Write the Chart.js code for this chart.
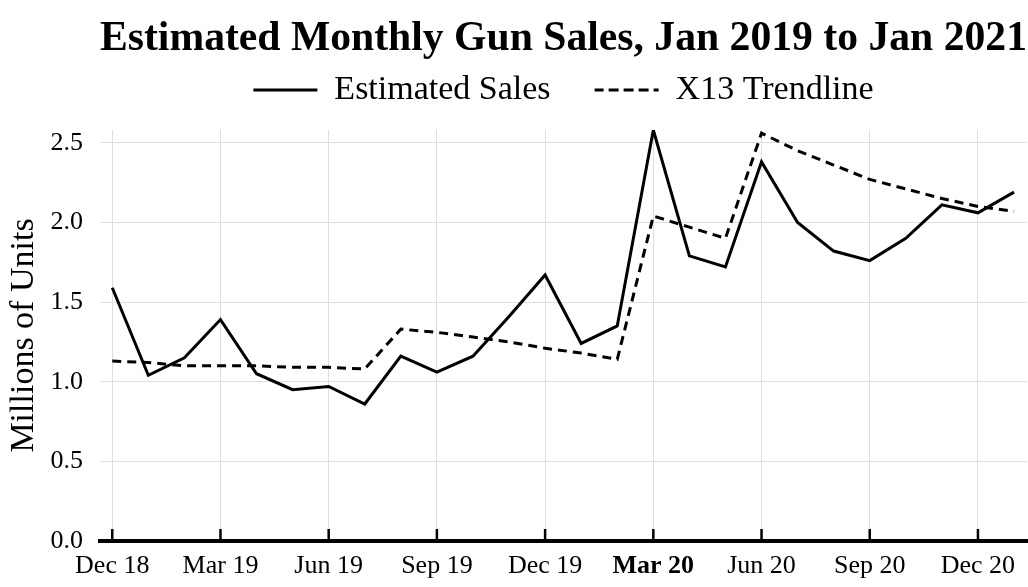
<!DOCTYPE html>
<html>
<head>
<meta charset="utf-8">
<script src="https://cdn.jsdelivr.net/npm/chart.js@4"></script>
<style>
  html, body { margin: 0; padding: 0; background: #fff; }
  #wrap { width: 1028px; height: 587px; }
</style>
</head>
<body>
<div id="wrap"><canvas id="salesChart"></canvas></div>
<script>
// month labels, Dec 2018 .. Jan 2021
const months = ['Dec 18', 'Jan 19', 'Feb 19', 'Mar 19', 'Apr 19', 'May 19', 'Jun 19', 'Jul 19',
  'Aug 19', 'Sep 19', 'Oct 19', 'Nov 19', 'Dec 19', 'Jan 20', 'Feb 20', 'Mar 20', 'Apr 20',
  'May 20', 'Jun 20', 'Jul 20', 'Aug 20', 'Sep 20', 'Oct 20', 'Nov 20', 'Dec 20', 'Jan 21'];

// estimated sales, millions of units
const estimatedSales = [1.59, 1.04, 1.15, 1.39, 1.05, 0.95, 0.97, 0.86, 1.16, 1.06, 1.16, 1.41,
  1.67, 1.24, 1.35, 2.58, 1.79, 1.72, 2.38, 2.00, 1.82, 1.76, 1.90, 2.11, 2.06, 2.19];

// X13 trendline
const trendline = [1.13, 1.12, 1.10, 1.10, 1.10, 1.09, 1.09, 1.08, 1.33, 1.31, 1.28, 1.25,
  1.21, 1.18, 1.14, 2.04, 1.97, 1.90, 2.56, 2.45, 2.36, 2.27, 2.21, 2.15, 2.10, 2.07];

// labelled x ticks (index into months), Mar 20 gets bold
const xTickIdx = [0, 3, 6, 9, 12, 15, 18, 21, 24];
const boldTick = 15;
const yTicks = [0, 0.5, 1.0, 1.5, 2.0, 2.5];

const serif = "'Liberation Serif', 'Times New Roman', serif";

// small upward tick marks sitting on the x axis line
const upTicks = {
  id: 'upTicks',
  afterDraw(chart) {
    const xs = chart.scales.x;
    const ctx = chart.ctx;
    const y0 = chart.chartArea.bottom;
    ctx.save();
    ctx.strokeStyle = '#000';
    ctx.lineWidth = 2.5;
    xTickIdx.forEach(v => {
      const px = xs.getPixelForValue(v);
      ctx.beginPath();
      ctx.moveTo(px, y0);
      ctx.lineTo(px, y0 - 12);
      ctx.stroke();
    });
    ctx.restore();
  }
};

const ctx = document.getElementById('salesChart').getContext('2d');
new Chart(ctx, {
  type: 'line',
  data: {
    datasets: [
      {
        label: 'Estimated Sales',
        data: estimatedSales.map((v, i) => ({ x: i, y: v })),
        borderColor: '#000',
        backgroundColor: 'rgba(0,0,0,0)',
        borderWidth: 3,
        pointRadius: 0,
        tension: 0
      },
      {
        label: 'X13 Trendline',
        data: trendline.map((v, i) => ({ x: i, y: v })),
        borderColor: '#000',
        backgroundColor: 'rgba(0,0,0,0)',
        borderWidth: 3,
        borderDash: [9, 6],
        pointRadius: 0,
        tension: 0
      }
    ]
  },
  options: {
    responsive: true,
    maintainAspectRatio: false,
    animation: false,
    layout: { padding: { left: 0, right: 1, top: 0, bottom: 0 } },
    scales: {
      x: {
        type: 'linear',
        min: -0.34,
        max: 25.36,
        afterBuildTicks: scale => { scale.ticks = xTickIdx.map(v => ({ value: v })); },
        afterFit: scale => { scale.height = 46; },
        grid: { color: '#dedede', lineWidth: 1, drawTicks: false },
        border: { display: true, color: '#000', width: 4 },
        ticks: {
          color: '#000',
          padding: 10,
          maxRotation: 0,
          autoSkip: false,
          font: c => ({ family: serif, size: 26, weight: c.tick && c.tick.value === boldTick ? 'bold' : 'normal' }),
          callback: v => months[v]
        }
      },
      y: {
        min: 0,
        max: 2.58,
        afterBuildTicks: scale => { scale.ticks = yTicks.map(v => ({ value: v })); },
        afterFit: scale => { scale.width = 100; },
        grid: { color: '#dedede', lineWidth: 1, drawTicks: false },
        border: { display: false },
        title: {
          display: true,
          text: 'Millions of Units',
          color: '#000',
          font: { family: serif, size: 34 },
          padding: { top: 4, bottom: 4 }
        },
        ticks: {
          color: '#000',
          padding: 17,
          font: { family: serif, size: 26 },
          callback: v => v.toFixed(1)
        }
      }
    },
    plugins: {
      title: {
        display: true,
        fullSize: false,
        text: 'Estimated Monthly Gun Sales, Jan 2019 to Jan 2021',
        color: '#000',
        font: { family: serif, size: 42, weight: 'bold', lineHeight: 1 },
        padding: { top: 18, bottom: -31 }
      },
      subtitle: {
        // spacer between legend and plot
        display: true,
        fullSize: false,
        weight: 500,
        text: '',
        font: { size: 1, lineHeight: 1 },
        padding: { top: 6, bottom: 6 }
      },
      legend: {
        display: true,
        position: 'top',
        fullSize: false,
        labels: {
          color: '#000',
          font: { family: serif, size: 34 },
          boxWidth: 64,
          boxHeight: 0,
          padding: 44
        }
      },
      tooltip: { enabled: false }
    }
  },
  plugins: [upTicks]
});
</script>
</body>
</html>
